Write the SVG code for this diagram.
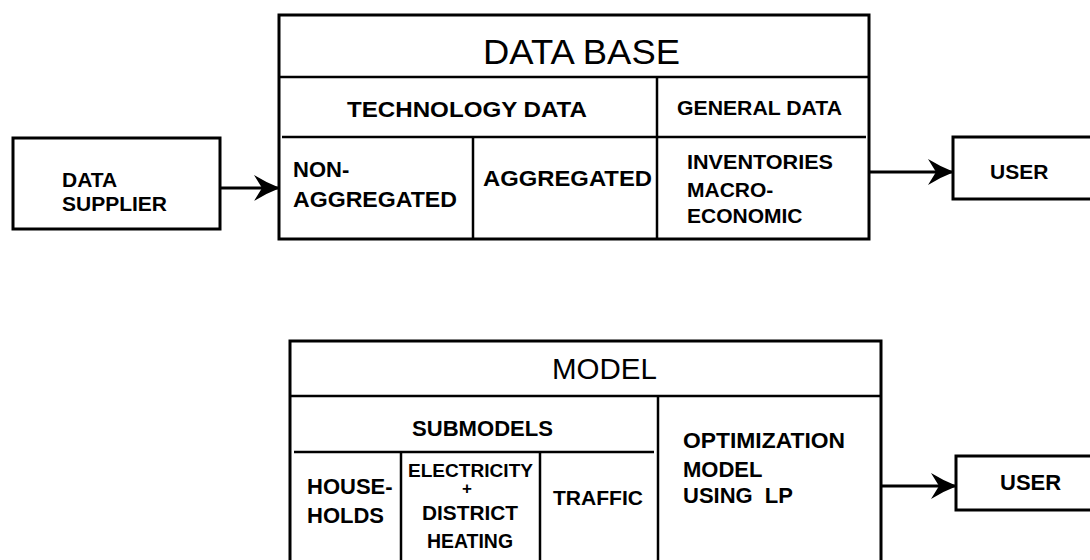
<svg xmlns="http://www.w3.org/2000/svg" width="1090" height="560" viewBox="0 0 1090 560">
  <style>
    .box { fill: #fff; stroke: #000; stroke-width: 3; }
    .open { fill: none; stroke: #000; stroke-width: 3; }
    .div { stroke: #000; stroke-width: 2.5; fill: none; }
    .conn { stroke: #000; stroke-width: 3; fill: none; marker-end: url(#arr); }
    text { font-family: "Liberation Sans", Arial, Helvetica, sans-serif; fill: #000; font-weight: bold; }
    .title { font-weight: normal; }
  </style>
  <defs>
    <marker id="arr" markerUnits="userSpaceOnUse" markerWidth="26" markerHeight="28" viewBox="0 0 26 28" refX="25" refY="14" orient="auto">
      <path d="M0,1 Q13,9 26,14 Q13,19 0,27 L8,14 Z" fill="#000"/>
    </marker>
  </defs>
  <rect width="1090" height="560" fill="#fff"/>

  <g id="connectors">
    <path class="conn" d="M220,188 H279"/>
    <path class="conn" d="M869,172 H953"/>
    <path class="conn" d="M881,486 H956"/>
  </g>

  <g id="data-supplier">
    <rect class="box" x="13" y="138" width="207" height="91"/>
    <text x="62" y="187" font-size="21">DATA</text>
    <text x="62" y="211" font-size="21">SUPPLIER</text>
  </g>

  <g id="data-base">
    <rect class="box" x="279" y="15" width="590" height="224"/>
    <line class="div" x1="279" y1="77" x2="869" y2="77"/>
    <line class="div" x1="282" y1="137" x2="866" y2="137"/>
    <line class="div" x1="657" y1="77" x2="657" y2="239"/>
    <line class="div" x1="473" y1="137" x2="473" y2="239"/>
    <text class="title" x="483" y="64" font-size="35" textLength="197" lengthAdjust="spacingAndGlyphs">DATA BASE</text>
    <text x="347" y="117" font-size="22" textLength="240" lengthAdjust="spacingAndGlyphs">TECHNOLOGY DATA</text>
    <text x="677" y="115" font-size="21" textLength="165" lengthAdjust="spacingAndGlyphs">GENERAL DATA</text>
    <text x="293" y="177" font-size="22">NON-</text>
    <text x="293" y="207" font-size="22" textLength="164" lengthAdjust="spacingAndGlyphs">AGGREGATED</text>
    <text x="483" y="186" font-size="22" textLength="169" lengthAdjust="spacingAndGlyphs">AGGREGATED</text>
    <text x="687" y="169" font-size="21" textLength="146" lengthAdjust="spacingAndGlyphs">INVENTORIES</text>
    <text x="687" y="197" font-size="21">MACRO-</text>
    <text x="687" y="223" font-size="21">ECONOMIC</text>
  </g>

  <g id="user-top">
    <rect class="box" x="953" y="137" width="140" height="62"/>
    <text x="990" y="179" font-size="21">USER</text>
  </g>

  <g id="model">
    <path class="open" d="M290,562 V341 H881 V562"/>
    <line class="div" x1="290" y1="396" x2="881" y2="396"/>
    <line class="div" x1="294" y1="452" x2="654" y2="452"/>
    <line class="div" x1="658" y1="396" x2="658" y2="562"/>
    <line class="div" x1="401" y1="452" x2="401" y2="562"/>
    <line class="div" x1="540" y1="452" x2="540" y2="562"/>
    <text class="title" x="552" y="379" font-size="29.5">MODEL</text>
    <text x="412" y="436" font-size="22" textLength="141" lengthAdjust="spacingAndGlyphs">SUBMODELS</text>
    <text x="307" y="494" font-size="22">HOUSE-</text>
    <text x="307" y="523" font-size="22">HOLDS</text>
    <text x="408" y="477" font-size="19" textLength="125" lengthAdjust="spacingAndGlyphs">ELECTRICITY</text>
    <text x="467" y="494" font-size="17" text-anchor="middle">+</text>
    <text x="422" y="520" font-size="21" textLength="96" lengthAdjust="spacingAndGlyphs">DISTRICT</text>
    <text x="427" y="548" font-size="20" textLength="86" lengthAdjust="spacingAndGlyphs">HEATING</text>
    <text x="553" y="505" font-size="21" textLength="90" lengthAdjust="spacingAndGlyphs">TRAFFIC</text>
    <text x="683" y="448" font-size="22" textLength="162" lengthAdjust="spacingAndGlyphs">OPTIMIZATION</text>
    <text x="683" y="477" font-size="22">MODEL</text>
    <text x="683" y="503" font-size="22">USING <tspan dx="6">LP</tspan></text>
  </g>

  <g id="user-bottom">
    <rect class="box" x="956" y="456" width="137" height="54"/>
    <text x="1000" y="490" font-size="22">USER</text>
  </g>
</svg>
